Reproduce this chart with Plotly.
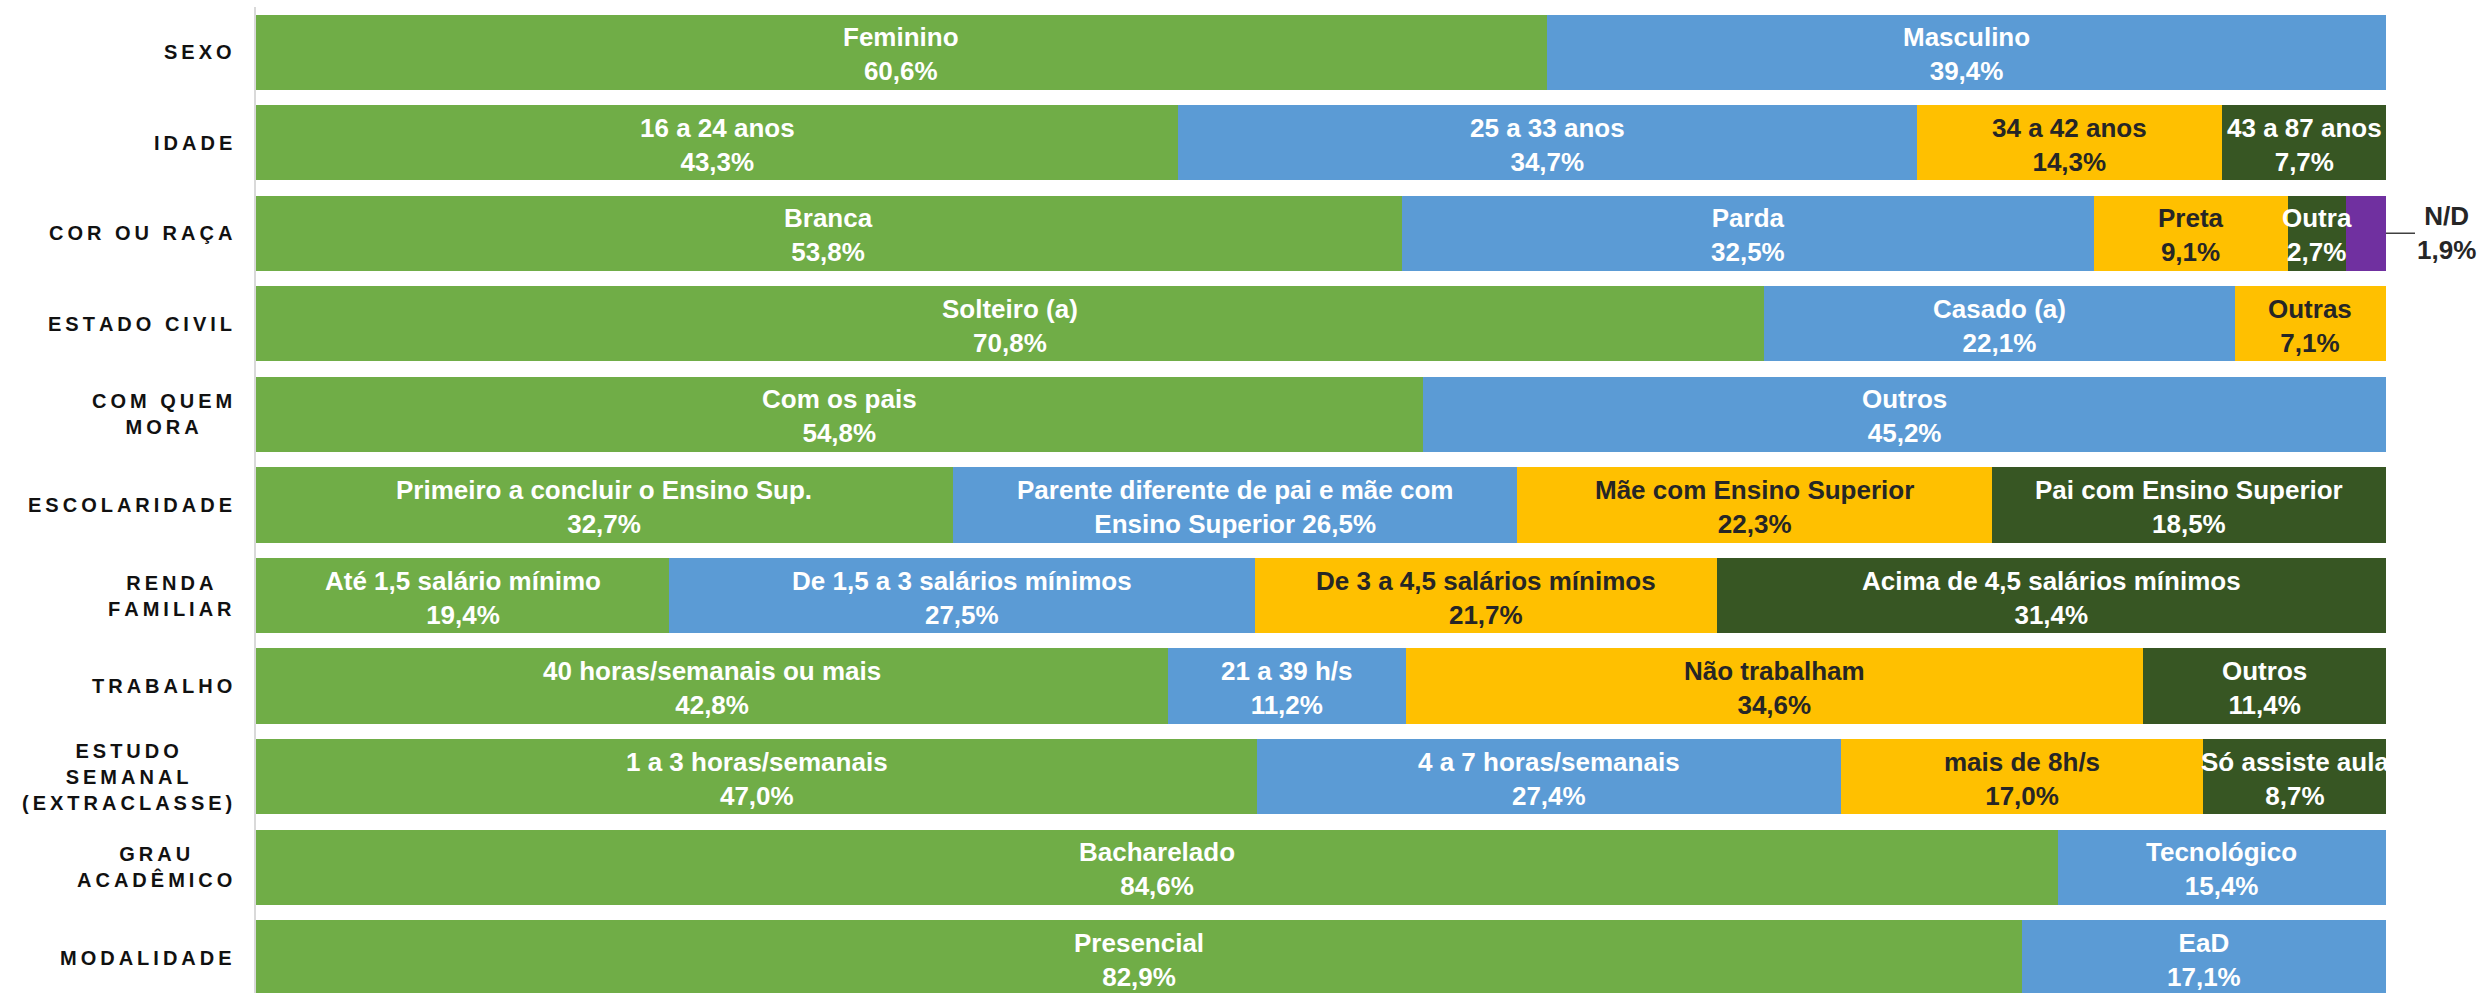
import plotly.graph_objects as go

# categories (top to bottom)
categories = ["SEXO", "IDADE", "COR OU RAÇA", "ESTADO CIVIL", "COM QUEM<br>MORA",
              "ESCOLARIDADE", "RENDA<br>FAMILIAR", "TRABALHO",
              "ESTUDO<br>SEMANAL<br>(EXTRACLASSE)", "GRAU<br>ACADÊMICO", "MODALIDADE"]

# segment labels per category
seg_labels = [
    ["Feminino", "Masculino"],
    ["16 a 24 anos", "25 a 33 anos", "34 a 42 anos", "43 a 87 anos"],
    ["Branca", "Parda", "Preta", "Outra", "N/D"],
    ["Solteiro (a)", "Casado (a)", "Outras"],
    ["Com os pais", "Outros"],
    ["Primeiro a concluir o Ensino Sup.", "Parente diferente de pai e mãe com<br>Ensino Superior",
     "Mãe com Ensino Superior", "Pai com Ensino Superior"],
    ["Até 1,5 salário mínimo", "De 1,5 a 3 salários mínimos", "De 3 a 4,5 salários mínimos",
     "Acima de 4,5 salários mínimos"],
    ["40 horas/semanais ou mais", "21 a 39 h/s", "Não trabalham", "Outros"],
    ["1 a 3 horas/semanais", "4 a 7 horas/semanais", "mais de 8h/s", "Só assiste aula"],
    ["Bacharelado", "Tecnológico"],
    ["Presencial", "EaD"],
]

# segment values (%) per category
seg_values = [
    [60.6, 39.4],
    [43.3, 34.7, 14.3, 7.7],
    [53.8, 32.5, 9.1, 2.7, 1.9],
    [70.8, 22.1, 7.1],
    [54.8, 45.2],
    [32.7, 26.5, 22.3, 18.5],
    [19.4, 27.5, 21.7, 31.4],
    [42.8, 11.2, 34.6, 11.4],
    [47.0, 27.4, 17.0, 8.7],
    [84.6, 15.4],
    [82.9, 17.1],
]

colors = ["#70AD47", "#5B9BD5", "#FFC000", "#375623", "#7030A0"]
text_colors = ["white", "white", "#262626", "white", "white"]
FONT = "Liberation Sans"


def pct(v):
    return f"{v:.1f}".replace(".", ",") + "%"


def spaced(s):
    # imitate letter spacing of the original axis labels
    parts = s.split("<br>")
    return "<br>".join("\u2009".join(list(p)) for p in parts)


fig = go.Figure()
n_seg = max(len(v) for v in seg_values)
for k in range(n_seg):
    xs = [val[k] if k < len(val) else None for val in seg_values]
    fig.add_trace(go.Bar(
        y=categories, x=xs, orientation="h",
        marker=dict(color=colors[k], line=dict(width=0)),
        hoverinfo="skip", showlegend=False,
    ))

annotations = []
# category labels on the left
for c in categories:
    annotations.append(dict(
        x=0, xref="paper", y=c, yref="y", xanchor="right", yanchor="middle",
        xshift=-22, align="center", showarrow=False, text=spaced(c),
        font=dict(family=FONT, size=20, color="#111111", weight="bold"),
    ))

# labels inside the segments, N/D outside with a leader line
for lab, val, c in zip(seg_labels, seg_values, categories):
    start = 0
    for j, (l, v) in enumerate(zip(lab, val)):
        if l == "N/D":
            annotations.append(dict(
                x=start + v, y=c, xref="x", yref="y",
                text=l + "<br>" + pct(v), showarrow=True, arrowhead=0,
                arrowwidth=1.5, arrowcolor="#404040", ax=60, ay=0,
                xanchor="center", yanchor="middle",
                font=dict(family=FONT, size=26, color="#262626", weight="bold"),
            ))
        else:
            sep = " " if "<br>" in l else "<br>"
            annotations.append(dict(
                x=start + v / 2, y=c, xref="x", yref="y", showarrow=False,
                text=l + sep + pct(v), xanchor="center", yanchor="middle", yshift=-2,
                font=dict(family=FONT, size=26, color=text_colors[j], weight="bold"),
            ))
        start += v

fig.update_layout(
    barmode="stack", bargap=0.17,
    width=2481, height=993,
    margin=dict(l=256, r=95, t=7, b=0),
    paper_bgcolor="white", plot_bgcolor="white",
    xaxis=dict(range=[0, 100], visible=False, fixedrange=True),
    yaxis=dict(categoryorder="array", categoryarray=categories,
               range=[10.39, -0.5], showticklabels=False, showgrid=False,
               showline=True, linecolor="#D9D9D9", linewidth=2, ticks=""),
    annotations=annotations,
)

fig.write_html("out.html", config={"displayModeBar": False},
               post_script="document.body.style.margin='0';")
